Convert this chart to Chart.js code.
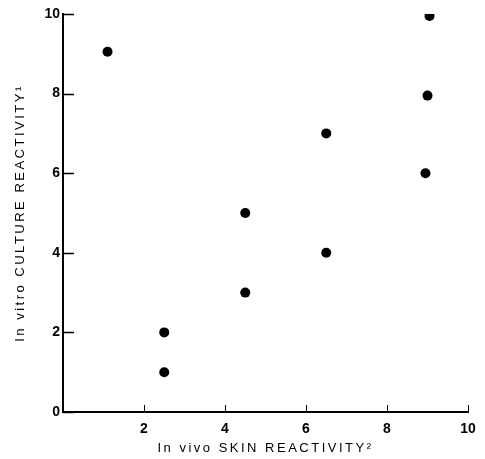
<!DOCTYPE html>
<html>
<head>
<meta charset="utf-8">
<script src="https://cdn.jsdelivr.net/npm/chart.js@4/dist/chart.umd.min.js"></script>
<style>
html,body{margin:0;padding:0;background:#fff;}
#wrap{width:485px;height:459px;position:relative;}
</style>
</head>
<body>
<div id="wrap"><canvas id="c"></canvas></div>
<script>
const skinReactivity   = [1.1, 2.5, 2.5, 4.5, 4.5, 6.5, 6.5, 9.05, 9.0, 8.95];
const cultureReactivity = [9.05, 2.0, 1.0, 5.0, 3.0, 7.0, 4.0, 9.95, 7.95, 6.0];
const xTicks = [2, 4, 6, 8, 10];
const yTicks = [0, 2, 4, 6, 8, 10];
const xTitle = 'In vivo SKIN REACTIVITY\u00B2';
const yTitle = 'In vitro CULTURE REACTIVITY\u00B9';

const points = skinReactivity.map((x, i) => ({x: x, y: cultureReactivity[i]}));

const inwardTicks = {
  id: 'inwardTicks',
  afterLayout(chart) {
    Object.values(chart.scales).forEach(s => {
      if (s._spacedTitle) return;
      const orig = s.drawTitle;
      s.drawTitle = function () {
        const ctx = this.ctx;
        ctx.save();
        ctx.letterSpacing = '2.5px';
        orig.call(this);
        ctx.restore();
      };
      s._spacedTitle = true;
    });
  },
  afterDraw(chart) {
    const ctx = chart.ctx;
    const xs = chart.scales.x, ys = chart.scales.y;
    ctx.save();
    ctx.strokeStyle = '#000';
    ctx.lineWidth = 1.5;
    ctx.beginPath();
    yTicks.forEach(v => {
      const p = Math.round(ys.getPixelForValue(v)) + 0.5;
      ctx.moveTo(xs.left, p);
      ctx.lineTo(xs.left + 11, p);
    });
    ctx.stroke();
    ctx.lineWidth = 1;
    ctx.beginPath();
    xTicks.forEach(v => {
      const p = Math.round(xs.getPixelForValue(v)) + 0.5;
      ctx.moveTo(p, ys.bottom);
      ctx.lineTo(p, ys.bottom - 7);
    });
    ctx.stroke();
    ctx.restore();
  }
};

const tickFont = {family: '"Liberation Sans", Arial, sans-serif', size: 14, weight: 'bold'};
const titleFont = {family: '"Liberation Sans", Arial, sans-serif', size: 13};

new Chart(document.getElementById('c'), {
  type: 'scatter',
  data: {
    datasets: [{
      data: points,
      backgroundColor: '#000',
      borderColor: '#000',
      borderWidth: 0,
      pointRadius: 5,
      pointHoverRadius: 5
    }]
  },
  options: {
    responsive: true,
    maintainAspectRatio: false,
    animation: false,
    layout: {padding: {left: 0, right: 17, top: 14, bottom: 0}},
    plugins: {legend: {display: false}, tooltip: {enabled: false}},
    scales: {
      x: {
        type: 'linear',
        min: 0, max: 10,
        afterBuildTicks: s => { s.ticks = xTicks.map(v => ({value: v})); },
        afterFit: s => { s.height = 47; },
        grid: {display: false, drawTicks: false},
        border: {display: true, color: '#000', width: 2},
        ticks: {color: '#000', font: tickFont, padding: 9, maxRotation: 0},
        title: {display: true, text: xTitle, color: '#000', font: titleFont, padding: {top: 0, bottom: 3}}
      },
      y: {
        type: 'linear',
        min: 0, max: 10,
        afterBuildTicks: s => { s.ticks = yTicks.map(v => ({value: v})); },
        afterFit: s => { s.width = 63; },
        grid: {display: false, drawTicks: false},
        border: {display: true, color: '#000', width: 2},
        ticks: {color: '#000', font: tickFont, padding: 3},
        title: {display: true, text: yTitle, color: '#000', font: titleFont, padding: {top: 13, bottom: 0}}
      }
    }
  },
  plugins: [inwardTicks]
});
</script>
</body>
</html>
